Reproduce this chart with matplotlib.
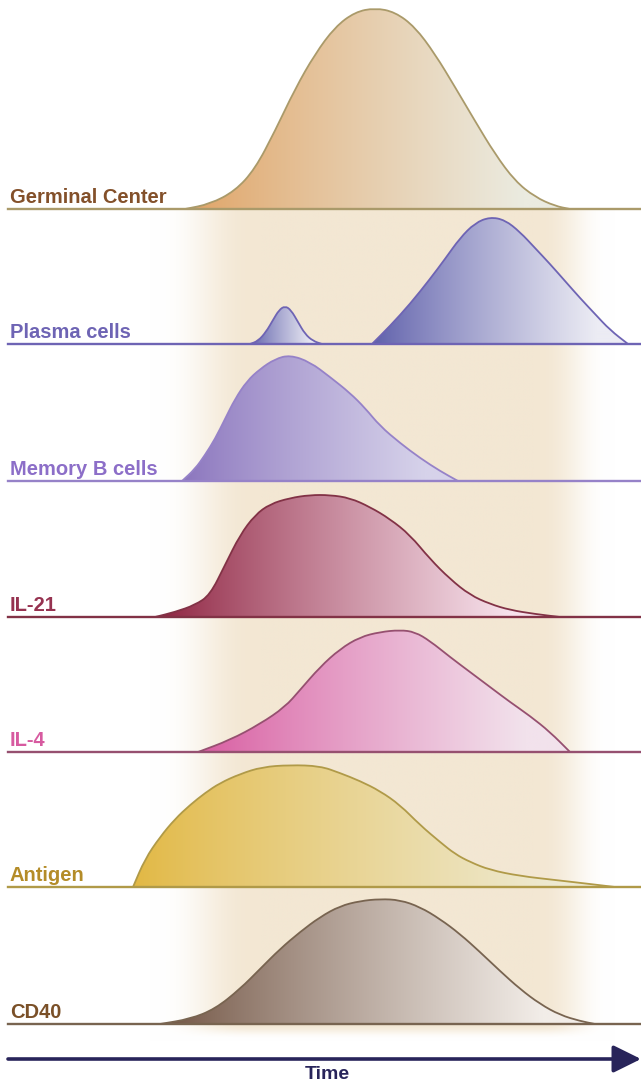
import numpy as np
import matplotlib
matplotlib.use("Agg")
import matplotlib.pyplot as plt
from matplotlib.patches import PathPatch
from matplotlib.path import Path
from matplotlib.colors import to_rgb

plt.rcParams["font.family"] = ["Liberation Sans", "DejaVu Sans"]

# Curves: time position (x) and level above each row's baseline (h)
gc_x = [185, 210, 235, 255, 275, 295, 315, 335, 355, 375, 395, 415, 435, 455, 475, 495, 515, 535, 555, 570]
gc_h = [0, 5, 18, 40, 78, 120, 155, 182, 197, 201, 197, 182, 155, 122, 88, 55, 28, 12, 3, 0]

plasma1_x = [250, 258, 266, 273, 279, 285, 291, 298, 305, 313, 322]
plasma1_h = [0, 3, 12, 24, 34, 38, 34, 22, 10, 3, 0]
plasma2_x = [372, 390, 410, 430, 445, 460, 475, 490, 505, 520, 535, 550, 565, 580, 595, 610, 628]
plasma2_h = [0, 18, 40, 65, 85, 106, 121, 127, 124, 112, 96, 80, 63, 46, 30, 14, 0]

memb_x = [182, 195, 205, 215, 225, 235, 247, 260, 275, 290, 310, 330, 350, 365, 380, 400, 420, 440, 458]
memb_h = [0, 12, 26, 42, 62, 82, 100, 112, 122, 126, 119, 104, 88, 73, 55, 38, 23, 10, 0]

il21_x = [155, 175, 195, 210, 225, 240, 255, 270, 290, 310, 330, 350, 370, 390, 410, 430, 450, 470, 490, 510, 535, 560]
il21_h = [0, 5, 12, 22, 52, 82, 102, 113, 119, 122, 122, 119, 110, 98, 82, 58, 38, 22, 13, 7, 3, 0]

il4_x = [198, 230, 260, 285, 300, 320, 340, 360, 380, 400, 415, 430, 450, 470, 490, 510, 530, 550, 570]
il4_h = [0, 12, 28, 45, 62, 85, 103, 115, 120, 122, 120, 111, 95, 80, 65, 50, 36, 20, 0]

antigen_x = [133, 145, 160, 175, 190, 205, 220, 240, 262, 290, 320, 340, 360, 380, 400, 420,
             440, 455, 470, 490, 520, 555, 590, 615]
antigen_h = [0, 28, 50, 68, 82, 94, 104, 113, 120, 122, 121, 114, 106, 96, 82, 62,
             45, 33, 25, 17, 11, 7, 3, 0]

cd40_x = [160, 190, 215, 240, 260, 280, 300, 320, 340, 360, 380, 400, 420, 440, 460, 480, 500, 520, 540, 560, 580, 595]
cd40_h = [0, 5, 15, 35, 55, 75, 92, 107, 118, 123, 125, 124, 117, 105, 90, 72, 53, 35, 20, 9, 3, 0]

labels = ["Germinal Center", "Plasma cells", "Memory B cells", "IL-21", "IL-4", "Antigen", "CD40"]
baselines = [209, 344, 481, 617, 752, 887, 1024]
label_colors = ["#83502a", "#6e64b4", "#8c6ec8", "#963250", "#d75aa0", "#b48c28", "#7a5028"]
line_colors = ["#aa9a6a", "#6e64b4", "#9682c8", "#823246", "#965070", "#b09a48", "#786450"]
fill_left = ["#e0a263", "#5d5eaa", "#8a74bd", "#8c1e3c", "#d85aa0", "#e2b843", "#6e503f"]
fill_right = ["#ebebe0", "#ececf4", "#d6d2ea", "#f7e2ec", "#f2e2ec", "#eeead2", "#f2ede8"]

curves = [
    [(gc_x, gc_h)],
    [(plasma1_x, plasma1_h), (plasma2_x, plasma2_h)],
    [(memb_x, memb_h)],
    [(il21_x, il21_h)],
    [(il4_x, il4_h)],
    [(antigen_x, antigen_h)],
    [(cd40_x, cd40_h)],
]


def smooth_path(px, py, closed=False):
    """Quadratic B-spline path through the midpoints of the given points."""
    pts = np.column_stack([px, py])
    verts = [pts[0], (pts[0] + pts[1]) / 2]
    codes = [Path.MOVETO, Path.LINETO]
    for k in range(1, len(pts) - 1):
        verts += [pts[k], (pts[k] + pts[k + 1]) / 2]
        codes += [Path.CURVE3, Path.CURVE3]
    verts.append(pts[-1])
    codes.append(Path.LINETO)
    if closed:
        verts.append(pts[0])
        codes.append(Path.CLOSEPOLY)
    return Path(np.array(verts), codes)


def ease(v):
    v = np.clip(v, 0, 1)
    return v ** 3 * (v * (6 * v - 15) + 10)


W, H = 641, 1085
fig = plt.figure(figsize=(W / 100, H / 100), dpi=100)
ax = fig.add_axes([0, 0, 1, 1])
ax.set_xlim(0, W)
ax.set_ylim(H, 0)
ax.axis("off")

# beige background band behind rows 2..7 (blended onto white)
band_rgb = np.array(to_rgb("#f3e7d3"))
xs = np.linspace(140, 630, 600)
alpha_x = ease((xs - 150) / 110) * ease((615 - xs) / 80)
ys = np.linspace(209, 1042, 300)
alpha_y = ease((1042 - ys) / 18)
a = alpha_y[:, None, None] * alpha_x[None, :, None]
band = a * band_rgb[None, None, :] + (1 - a) * 1.0
ax.imshow(band, extent=[140, 630, 1042, 209], aspect="auto", zorder=0, interpolation="bilinear")

for i, label in enumerate(labels):
    base = baselines[i]
    c0 = np.array(to_rgb(fill_left[i]))
    c1 = np.array(to_rgb(fill_right[i]))
    for cx, ch in curves[i]:
        cx = np.array(cx, dtype=float)
        cy = base - np.array(ch, dtype=float)
        clip = PathPatch(smooth_path(cx, cy, closed=True), facecolor="none", edgecolor="none",
                         transform=ax.transData)
        ax.add_patch(clip)
        t = np.linspace(0, 1, 256)
        frac = np.clip(t / 0.88, 0, 1) ** 0.85
        grad = (c0[None, :] * (1 - frac[:, None]) + c1[None, :] * frac[:, None])[None, :, :]
        im = ax.imshow(grad, extent=[cx.min(), cx.max(), base + 1, cy.min() - 2],
                       aspect="auto", zorder=2, interpolation="bilinear")
        im.set_clip_path(clip)
        ax.add_patch(PathPatch(smooth_path(cx, cy), facecolor="none",
                               edgecolor=line_colors[i], lw=1.3, zorder=3))
    ax.plot([8, W], [base, base], color=line_colors[i], lw=1.7, zorder=3)
    ax.text(10, base - 6, label, color=label_colors[i], fontsize=14.5, fontweight="bold",
            ha="left", va="baseline", zorder=4)

# time arrow
ax.annotate("", xy=(641, 1059), xytext=(8, 1059),
            arrowprops=dict(arrowstyle="-|>,head_length=0.85,head_width=0.42",
                            mutation_scale=20, color="#28245a", lw=2.6,
                            shrinkA=0, shrinkB=0))
ax.text(327, 1066, "Time", color="#28245a", fontsize=14, fontweight="bold",
        ha="center", va="top")

fig.savefig("out.png", dpi=100)
